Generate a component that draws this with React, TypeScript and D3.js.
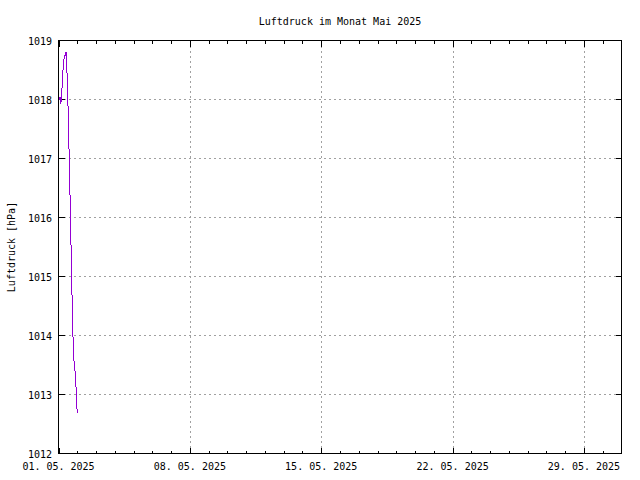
import React from "react";
import * as d3 from "d3";

const title = "Luftdruck im Monat Mai 2025";
const yLabel = "Luftdruck [hPa]";
const hours = [0,1,2,3,4,5,6,7,8,9,10,11,12,13,14,15,16,17,18,19,20,21,22,23,24];
const pressure = [1018.12,1018.0,1018.03,1017.92,1018.07,1018.32,1018.56,1018.69,1018.73,1018.78,1018.81,1018.41,1017.98,1017.39,1016.88,1016.2,1015.53,1014.85,1014.25,1013.75,1013.54,1013.41,1013.27,1012.9,1012.68];
const yTicks = [1012,1013,1014,1015,1016,1017,1018,1019];
const majorDays = [1, 8, 15, 22, 29];

const W = 640, H = 480;
const L = 58.5, R = 621.5, T = 40.5, B = 453.5;
const FONT = "'DejaVu Sans Mono', monospace";

export default function App() {
  const start = new Date(Date.UTC(2025, 4, 1));
  const end = new Date(Date.UTC(2025, 4, 31));
  const x = d3.scaleUtc().domain([start, end]).range([L, R]);
  const y = d3.scaleLinear().domain([1012, 1019]).range([B, T]);
  const fmt = d3.utcFormat("%d. %m. %Y");
  const days = d3.utcDay.range(start, end);
  const majors = majorDays.map((d) => new Date(Date.UTC(2025, 4, d)));
  const data = hours.map((h, i) => ({ t: d3.utcHour.offset(start, h), v: pressure[i] }));
  const line = d3.line<{ t: Date; v: number }>().x((d) => x(d.t)).y((d) => y(d.v));
  const grid = "#a0a0a0";

  return (
    <svg width={W} height={H} style={{ position: "absolute", left: 0, top: 0, background: "#fff" }} fontFamily={FONT} fontSize={10}>
      <rect x={0} y={0} width={W} height={H} fill="#fff" />
      {/* grid */}
      <g stroke={grid} strokeDasharray="2,3" strokeWidth={1} shapeRendering="crispEdges">
        {majors.filter((d) => +d !== +start).map((d, i) => (
          <line key={"gx" + i} x1={Math.round(x(d)) + 0.5} x2={Math.round(x(d)) + 0.5} y1={T} y2={B} />
        ))}
        {yTicks.slice(1, -1).map((v) => (
          <line key={"gy" + v} x1={L} x2={R} y1={y(v)} y2={y(v)} />
        ))}
      </g>
      {/* ticks */}
      <g stroke="#000" strokeWidth={1} shapeRendering="crispEdges">
        {days.map((d, i) => {
          const isMajor = majors.some((m) => +m === +d);
          const len = isMajor ? 6 : 3;
          const xx = Math.round(x(d)) + 0.5;
          return (
            <g key={"tx" + i}>
              <line x1={xx} x2={xx} y1={B} y2={B - len} />
              <line x1={xx} x2={xx} y1={T} y2={T + len} />
            </g>
          );
        })}
        {yTicks.map((v) => (
          <g key={"ty" + v}>
            <line x1={L} x2={L + 6} y1={y(v)} y2={y(v)} />
            <line x1={R} x2={R - 6} y1={y(v)} y2={y(v)} />
          </g>
        ))}
      </g>
      {/* data */}
      <path d={line(data) || ""} fill="none" stroke="#9400d3" strokeWidth={1} shapeRendering="crispEdges" />
      {/* frame */}
      <rect x={L} y={T} width={R - L} height={B - T} fill="none" stroke="#000" strokeWidth={1} shapeRendering="crispEdges" />
      {/* labels */}
      {yTicks.map((v) => (
        <text key={"ly" + v} x={52} y={y(v) + 4} textAnchor="end" fill="#000">{v}</text>
      ))}
      {majors.map((d, i) => (
        <text key={"lx" + i} x={x(d)} y={470} textAnchor="middle" fill="#000">{fmt(d)}</text>
      ))}
      <text x={(L + R) / 2} y={25} textAnchor="middle" fill="#000">{title}</text>
      <text transform={`translate(15,${(T + B) / 2}) rotate(-90)`} textAnchor="middle" fill="#000">{yLabel}</text>
    </svg>
  );
}
